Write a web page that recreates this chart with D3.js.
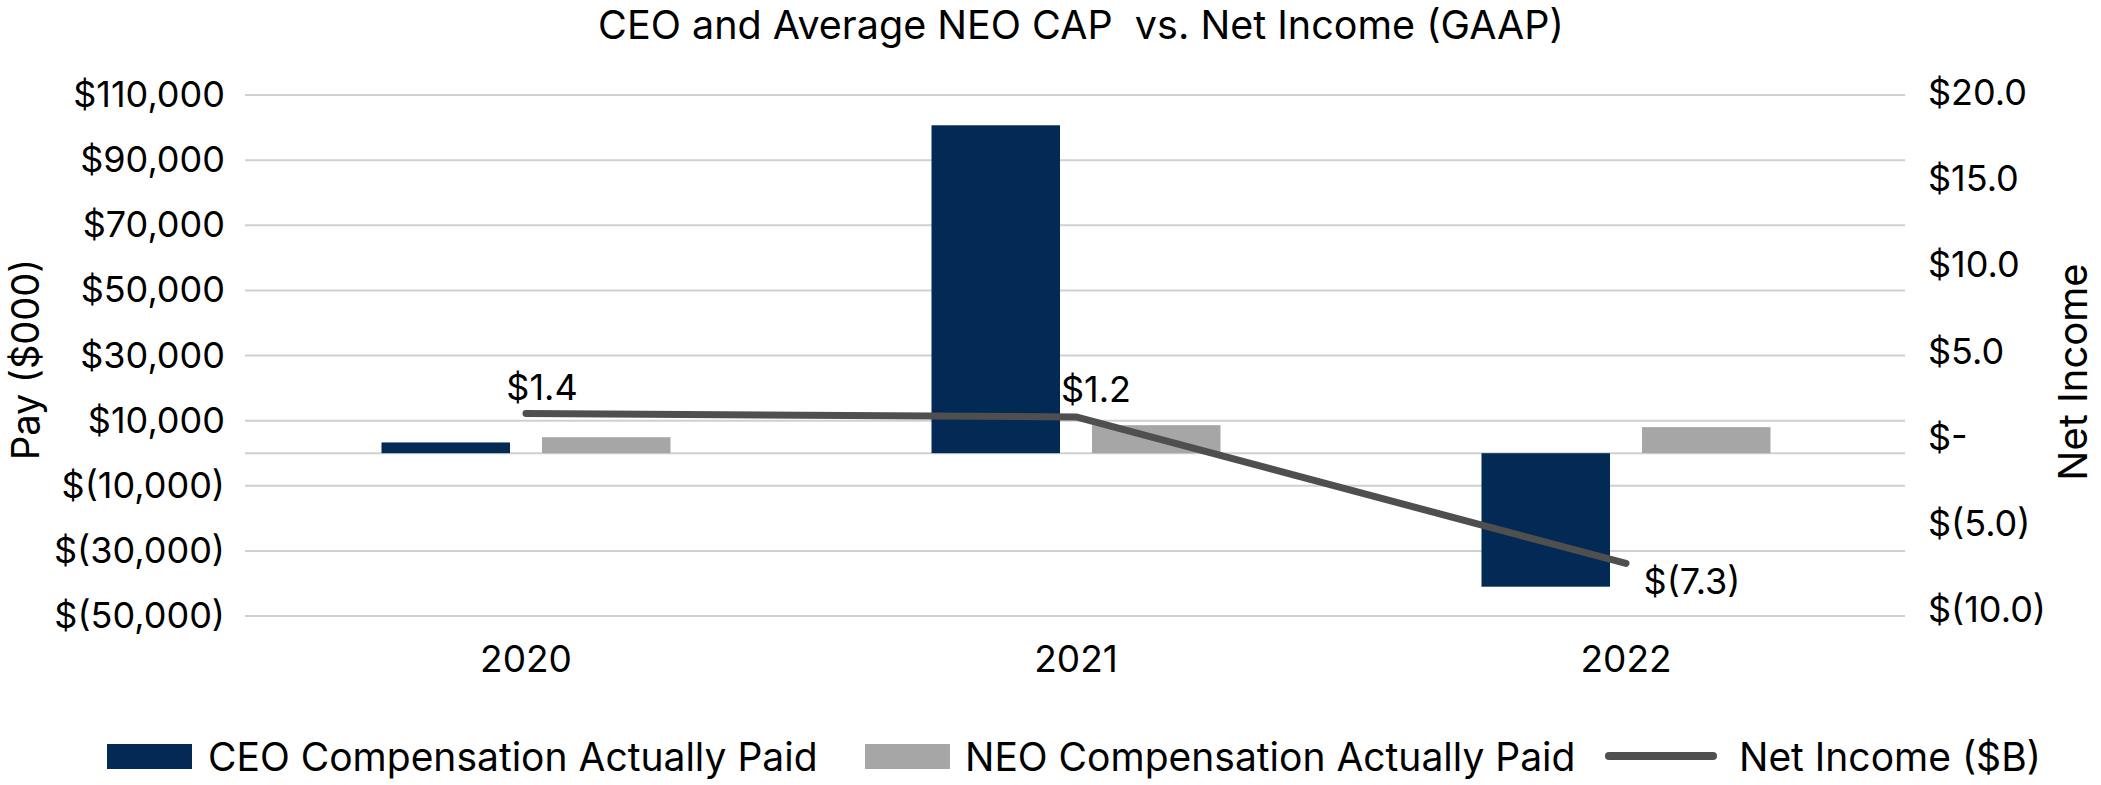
<!DOCTYPE html>
<html>
<head>
<meta charset="utf-8">
<script src="https://cdn.jsdelivr.net/npm/d3@7"></script>
<style>
  body { margin: 0; background: #fff; }
  svg { font-family: Inter, "Noto Sans", sans-serif; }
  .tick text { fill: #000; }
</style>
</head>
<body>
<svg width="2101" height="785"></svg>
<script>
  const titleText = 'CEO and Average NEO CAP\u00a0 vs. Net Income (GAAP)';
  const years = ['2020', '2021', '2022'];
  const ceoPay = [3300, 100700, -41000];
  const neoPay = [4900, 8600, 8000];
  const netIncome = [1.4, 1.2, -7.3];
  const netIncomeLabels = ['$1.4', '$1.2', '$(7.3)'];
  const payTicks = [-50000, -30000, -10000, 10000, 30000, 50000, 70000, 90000, 110000];
  const incomeTicks = [-10, -5, 0, 5, 10, 15, 20];
  const seriesNames = ['CEO Compensation Actually Paid', 'NEO Compensation Actually Paid', 'Net Income ($B)'];
  const colors = ['#022a55', '#a6a6a6', '#4f4f4f'];

  const svg = d3.select('svg');
  const plotLeft = 251, plotRight = 1901;

  const xScale = d3.scaleBand()
    .domain(years)
    .range([plotLeft, plotRight]);

  const barW = 128.5, gap = 32;
  const xInner = d3.scaleBand()
    .domain([0, 1])
    .range([-(barW + gap / 2), barW + gap / 2])
    .paddingInner(gap / (barW + gap));

  const yLeft = d3.scaleLinear().domain([-50000, 110000]).range([616, 95]);
  const yRight = d3.scaleLinear().domain([-10, 20]).range([610, 93]);

  const fmtPay = v => v < 0 ? `$(${d3.format(',')(-v)})` : `$${d3.format(',')(v)}`;
  const fmtIncome = v => v === 0 ? '$-' : v < 0 ? `$(${d3.format('.1f')(-v)})` : `$${d3.format('.1f')(v)}`;

  // gridlines
  svg.append('g')
    .selectAll('line').data(payTicks.concat([0]))
    .enter().append('line')
      .attr('x1', plotLeft - 6)
      .attr('x2', plotRight + 4)
      .attr('y1', d => yLeft(d))
      .attr('y2', d => yLeft(d))
      .attr('stroke', '#d0d0d0')
      .attr('stroke-width', 2);

  // left axis
  const leftAxisG = svg.append('g')
    .attr('transform', `translate(${plotLeft - 6},0)`)
    .call(d3.axisLeft(yLeft).tickValues(payTicks).tickFormat(fmtPay).tickSize(0).tickPadding(20));
  leftAxisG.select('.domain').remove();
  leftAxisG.selectAll('text').attr('font-size', 36).attr('font-family', 'Inter');

  // right axis
  const rightAxisG = svg.append('g')
    .attr('transform', `translate(${plotRight + 4},0)`)
    .call(d3.axisRight(yRight).tickValues(incomeTicks).tickFormat(fmtIncome).tickSize(0).tickPadding(23));
  rightAxisG.select('.domain').remove();
  rightAxisG.selectAll('text').attr('font-size', 36).attr('font-family', 'Inter');

  // x axis labels
  const xAxisG = svg.append('g')
    .attr('transform', `translate(0,${yLeft(-50000)})`)
    .call(d3.axisBottom(xScale).tickSize(0).tickPadding(30));
  xAxisG.select('.domain').remove();
  xAxisG.selectAll('text').attr('font-size', 37).attr('font-family', 'Inter');

  // bars
  const barData = [];
  years.forEach((yr, i) => {
    barData.push({ year: yr, s: 0, v: ceoPay[i] });
    barData.push({ year: yr, s: 1, v: neoPay[i] });
  });
  svg.append('g')
    .selectAll('rect').data(barData)
    .enter().append('rect')
      .attr('x', d => xScale(d.year) + xScale.bandwidth() / 2 + xInner(d.s))
      .attr('width', xInner.bandwidth())
      .attr('y', d => yLeft(Math.max(0, d.v)))
      .attr('height', d => Math.abs(yLeft(d.v) - yLeft(0)))
      .attr('fill', d => colors[d.s]);

  // net income line
  const cx = d => xScale(d) + xScale.bandwidth() / 2;
  const line = d3.line()
    .x((d, i) => cx(years[i]))
    .y(d => yRight(d));
  svg.append('path')
    .datum(netIncome)
    .attr('d', line)
    .attr('fill', 'none')
    .attr('stroke', colors[2])
    .attr('stroke-width', 7)
    .attr('stroke-linecap', 'round')
    .attr('stroke-linejoin', 'round');

  // data labels
  const labelOffsets = [[16, -27], [20, -28], [66, 18]];
  svg.append('g')
    .selectAll('text').data(netIncome)
    .enter().append('text')
      .attr('x', (d, i) => cx(years[i]) + labelOffsets[i][0])
      .attr('y', (d, i) => yRight(d) + labelOffsets[i][1])
      .attr('text-anchor', 'middle')
      .attr('dominant-baseline', 'central')
      .attr('font-size', 36)
      .text((d, i) => netIncomeLabels[i]);

  // title
  svg.append('text')
    .attr('x', 1081)
    .attr('y', 25)
    .attr('text-anchor', 'middle')
    .attr('dominant-baseline', 'central')
    .attr('font-size', 39.5)
    .text(titleText);

  // axis titles
  svg.append('text')
    .attr('transform', `translate(25,${yLeft(30000) + 4}) rotate(-90)`)
    .attr('text-anchor', 'middle')
    .attr('dominant-baseline', 'central')
    .attr('font-size', 38)
    .text('Pay ($000)');

  svg.append('text')
    .attr('transform', `translate(2072,372) rotate(-90)`)
    .attr('text-anchor', 'middle')
    .attr('dominant-baseline', 'central')
    .attr('font-size', 40)
    .text('Net Income');

  // legend
  const legendY = 756;
  const legendItems = [
    { x: 107, textX: 208, type: 'rect' },
    { x: 865, textX: 965, type: 'rect' },
    { x: 1605, textX: 1739, type: 'line' }
  ];
  const legend = svg.append('g');
  legendItems.forEach((item, i) => {
    if (item.type === 'rect') {
      legend.append('rect')
        .attr('x', item.x).attr('y', legendY - 12)
        .attr('width', 85).attr('height', 25)
        .attr('fill', colors[i]);
    } else {
      legend.append('line')
        .attr('x1', item.x + 4).attr('x2', item.x + 108)
        .attr('y1', legendY).attr('y2', legendY)
        .attr('stroke', colors[i])
        .attr('stroke-width', 8)
        .attr('stroke-linecap', 'round');
    }
    legend.append('text')
      .attr('x', item.textX)
      .attr('y', legendY)
      .attr('dominant-baseline', 'central')
      .attr('font-size', 39)
      .text(seriesNames[i]);
  });
</script>
</body>
</html>
